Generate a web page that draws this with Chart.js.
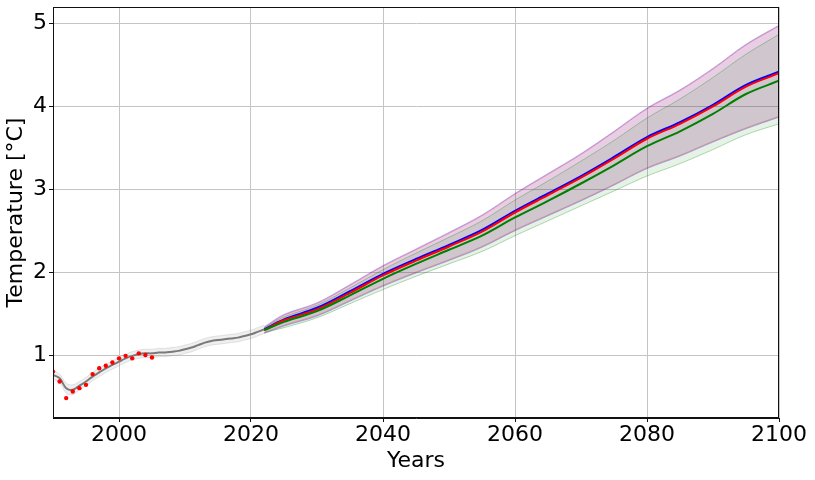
<!DOCTYPE html>
<html>
<head>
<meta charset="utf-8">
<script src="https://cdn.jsdelivr.net/npm/chart.js@4"></script>
<style>
  html, body { margin: 0; padding: 0; background: #fff; }
  #wrap { width: 815px; height: 480px; }
</style>
</head>
<body>
<div id="wrap"><canvas id="tempChart" width="815" height="480"></canvas></div>
<script>
// historical reconstruction (gray)
const histYears = [1990,1991,1992,1993,1994,1995,1996,1997,1998,1999,2000,2001,2002,2003,2004,2005,2006,2007,2008,2009,2010,2011,2012,2013,2014,2015,2016,2017,2018,2019,2020,2021,2022];
const histMean  = [0.76,0.72,0.60,0.58,0.63,0.68,0.74,0.79,0.84,0.88,0.92,0.96,0.99,1.01,1.02,1.02,1.03,1.03,1.04,1.05,1.07,1.09,1.12,1.15,1.17,1.18,1.19,1.20,1.21,1.23,1.25,1.28,1.31];
const histHigh  = [0.81,0.77,0.66,0.64,0.68,0.73,0.79,0.84,0.89,0.93,0.97,1.01,1.04,1.06,1.07,1.07,1.08,1.08,1.09,1.10,1.12,1.14,1.17,1.20,1.22,1.23,1.24,1.25,1.26,1.28,1.30,1.33,1.36];
const histLow   = [0.71,0.67,0.54,0.52,0.58,0.63,0.69,0.74,0.79,0.83,0.87,0.91,0.94,0.96,0.97,0.97,0.98,0.98,0.99,1.00,1.02,1.04,1.07,1.10,1.12,1.13,1.14,1.15,1.16,1.18,1.20,1.23,1.26];

// observations (red dots)
const obsYears = [1990,1991,1992,1993,1994,1995,1996,1997,1998,1999,2000,2001,2002,2003,2004,2005];
const obsTemp  = [0.80,0.68,0.48,0.56,0.60,0.64,0.77,0.84,0.87,0.91,0.96,0.99,0.96,1.02,1.00,0.97];

// projections
const projYears = [2022,2025,2030,2035,2040,2045,2050,2055,2060,2065,2070,2075,2080,2085,2090,2095,2100];
const blueMean  = [1.31,1.43,1.57,1.77,1.98,2.16,2.33,2.51,2.74,2.95,3.16,3.39,3.63,3.81,4.02,4.26,4.42];
const blueHigh  = [1.34,1.49,1.63,1.85,2.08,2.28,2.48,2.69,2.95,3.19,3.43,3.70,3.98,4.20,4.46,4.75,4.98];
const blueLow   = [1.26,1.35,1.47,1.65,1.83,1.99,2.14,2.30,2.50,2.68,2.86,3.05,3.25,3.40,3.57,3.73,3.87];
const redMean   = [1.30,1.42,1.55,1.75,1.96,2.14,2.31,2.49,2.72,2.93,3.14,3.37,3.61,3.79,4.00,4.24,4.40];
const redHigh   = [1.33,1.48,1.62,1.84,2.07,2.27,2.47,2.68,2.94,3.18,3.42,3.69,3.97,4.19,4.45,4.74,4.97];
const redLow    = [1.27,1.36,1.48,1.66,1.84,2.00,2.15,2.31,2.51,2.69,2.87,3.06,3.26,3.41,3.58,3.74,3.88];
const greenMean = [1.30,1.40,1.53,1.72,1.92,2.10,2.27,2.44,2.66,2.86,3.07,3.29,3.52,3.70,3.91,4.15,4.31];
const greenHigh = [1.33,1.46,1.60,1.81,2.03,2.23,2.42,2.62,2.87,3.10,3.34,3.59,3.86,4.09,4.35,4.63,4.87];
const greenLow  = [1.27,1.33,1.45,1.62,1.79,1.95,2.10,2.25,2.44,2.62,2.80,2.98,3.16,3.31,3.48,3.66,3.79];

const xTicks = [2000, 2020, 2040, 2060, 2080, 2100];
const yTicks = [1, 2, 3, 4, 5];

const pts = (xs, ys) => xs.map((x, i) => ({ x: x, y: ys[i] }));

function line(data, color, width, order) {
  return { type: 'line', data: data, borderColor: color, borderWidth: width, pointRadius: 0,
           tension: 0.35, fill: false, order: order };
}
function bandTop(data, edge, face, order) {
  return { type: 'line', data: data, borderColor: edge, borderWidth: 1, pointRadius: 0,
           tension: 0.35, fill: '+1', backgroundColor: face, order: order };
}

const FONT = 'DejaVu Sans';

// matplotlib style box round the plot
const frame = {
  id: 'frame',
  afterDraw(chart) {
    const { ctx, chartArea: a } = chart;
    ctx.save();
    ctx.strokeStyle = '#111';
    ctx.lineWidth = 1;
    ctx.strokeRect(Math.round(a.left) + 0.5, Math.round(a.top) + 0.5,
                   Math.round(a.right - a.left) - 1, Math.round(a.bottom - a.top) - 1);
    ctx.restore();
  }
};

new Chart(document.getElementById('tempChart'), {
  type: 'line',
  data: {
    datasets: [
      { type: 'scatter', data: pts(obsYears, obsTemp), backgroundColor: 'red', borderWidth: 0,
        pointRadius: 2.2, showLine: false, order: 0 },
      line(pts(projYears, greenMean), 'green', 2, 1),
      line(pts(projYears, redMean), 'red', 2, 2),
      line(pts(projYears, blueMean), 'blue', 2, 3),
      line(pts(histYears, histMean), '#7a7a7a', 2, 4),
      bandTop(pts(projYears, greenHigh), 'rgba(0,128,0,0.3)', 'rgba(0,128,0,0.1)', 5),
      line(pts(projYears, greenLow), 'rgba(0,128,0,0.3)', 1, 5),
      bandTop(pts(projYears, redHigh), 'rgba(255,0,0,0.3)', 'rgba(255,0,0,0.1)', 6),
      line(pts(projYears, redLow), 'rgba(255,0,0,0.3)', 1, 6),
      bandTop(pts(projYears, blueHigh), 'rgba(0,0,255,0.3)', 'rgba(0,0,255,0.1)', 7),
      line(pts(projYears, blueLow), 'rgba(0,0,255,0.3)', 1, 7),
      bandTop(pts(histYears, histHigh), 'rgba(128,128,128,0.2)', 'rgba(128,128,128,0.13)', 8),
      line(pts(histYears, histLow), 'rgba(128,128,128,0.2)', 1, 8)
    ]
  },
  options: {
    responsive: false,
    animation: false,
    layout: { padding: { top: 7, right: 36, left: 0, bottom: 0 } },
    plugins: { legend: { display: false }, tooltip: { enabled: false } },
    scales: {
      x: {
        type: 'linear', min: 1990, max: 2100,
        afterBuildTicks: s => { s.ticks = xTicks.map(v => ({ value: v })); },
        afterFit: s => { s.height = 62; },
        ticks: { color: '#000', font: { family: FONT, size: 22 }, padding: 0,
                 maxRotation: 0, autoSkip: false, callback: v => String(v) },
        grid: { color: '#c4c4c4', lineWidth: 1, tickColor: '#111', tickLength: 4 },
        border: { color: '#111' },
        title: { display: true, text: 'Years', color: '#000',
                 font: { family: FONT, size: 22 }, padding: { top: 0, bottom: 6 } }
      },
      y: {
        type: 'linear', min: 0.24, max: 5.2,
        afterBuildTicks: s => { s.ticks = yTicks.map(v => ({ value: v })); },
        afterFit: s => { s.width = 53; s.paddingTop = 0; s.paddingBottom = 0; },
        ticks: { color: '#000', font: { family: FONT, size: 22 }, padding: 2,
                 callback: v => String(v) },
        grid: { color: '#c4c4c4', lineWidth: 1, tickColor: '#111', tickLength: 4 },
        border: { color: '#111' },
        title: { display: true, text: 'Temperature [°C]', color: '#000',
                 font: { family: FONT, size: 22 }, padding: { top: 3, bottom: 0 } }
      }
    }
  },
  plugins: [frame]
});
</script>
</body>
</html>
